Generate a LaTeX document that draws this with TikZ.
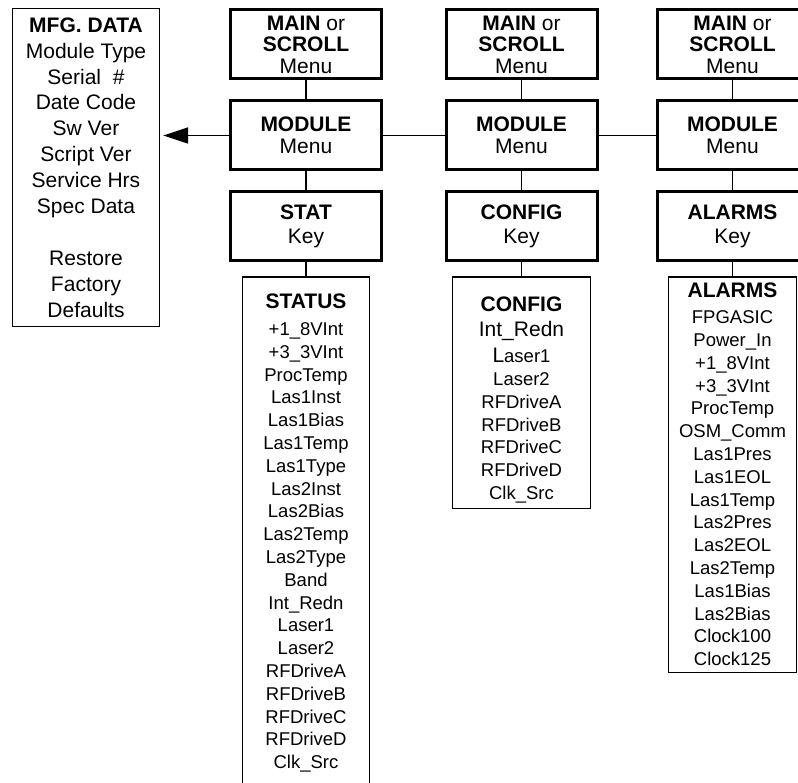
\documentclass[tikz,border=0pt]{standalone}
\usepackage{fontspec}
\setmainfont{Liberation Sans}
\usetikzlibrary{positioning,arrows.meta}
\newcommand{\hdsize}{\fontsize{21}{21.5}\selectfont}
\newcommand{\lssize}{\fontsize{18.5}{22.8}\selectfont}
\newcommand{\mfsize}{\fontsize{21}{25.9}\selectfont}
\tikzset{
  menubox/.style={
    draw, line width=3pt, align=center, inner sep=0pt,
    minimum width=151pt, minimum height=69pt, font=\hdsize,
  },
  listbox/.style={
    draw, line width=1.3pt, align=center, inner sep=0pt, font=\lssize,
  },
  link/.style ={line width=1.8pt},
  toarr/.style={link, -{Triangle[length=25pt,width=16pt]}, shorten >=3pt},
}

\begin{document}
\begin{tikzpicture}[x=1pt, y=-1pt]
\clip (0,0) rectangle (798,783);

% ---------------------------------------------------------------- mfg data
\node[listbox, font=\mfsize, minimum width=147pt, minimum height=318pt] (mfg) at (86,167.5)
  {\textbf{MFG. DATA}\\Module Type\\Serial\ \ \#\\Date Code\\Sw Ver\\Script Ver\\
   Service Hrs\\Spec Data\\[25.9pt]Restore\\Factory\\Defaults};

% ---------------------------------------------------------------- status column
\node[menubox] (main1) at (306,44.5) {\textbf{MAIN} or\\\textbf{SCROLL}\\Menu};
\node[menubox, below=19pt of main1] (mod1) {\textbf{MODULE}\\Menu};
\node[menubox, below=19pt of mod1] (stat) {\textbf{STAT}\\[2pt]Key};
\node[listbox, below=14pt of stat, minimum width=127pt, minimum height=512pt] (statlist)
  {{\hdsize\textbf{STATUS}}\\[4pt]+1\_8VInt\\+3\_3VInt\\ProcTemp\\Las1Inst\\Las1Bias\\
   Las1Temp\\Las1Type\\Las2Inst\\Las2Bias\\Las2Temp\\Las2Type\\Band\\Int\_Redn\\
   Laser1\\Laser2\\RFDriveA\\RFDriveB\\RFDriveC\\RFDriveD\\Clk\_Src};

% ---------------------------------------------------------------- config column
\node[menubox] (main2) at (521.5,44.5) {\textbf{MAIN} or\\\textbf{SCROLL}\\Menu};
\node[menubox, below=19pt of main2] (mod2) {\textbf{MODULE}\\Menu};
\node[menubox, below=19pt of mod2] (conf) {\textbf{CONFIG}\\[2pt]Key};
% strut on the first line pushes the whole list a little lower in its box
\node[listbox, below=14pt of conf, minimum width=138pt, minimum height=231pt] (conflist)
  {\rule{0pt}{29pt}{\hdsize\textbf{CONFIG}}\\[3pt]{\hdsize Int\_Redn}\\[3pt]{\hdsize L}aser1\\
   Laser2\\RFDriveA\\RFDriveB\\RFDriveC\\RFDriveD\\Clk\_Src};

% ---------------------------------------------------------------- alarms column
\node[menubox] (main3) at (732.5,44.5) {\textbf{MAIN} or\\\textbf{SCROLL}\\Menu};
\node[menubox, below=19pt of main3] (mod3) {\textbf{MODULE}\\Menu};
\node[menubox, below=19pt of mod3] (alrm) {\textbf{ALARMS}\\[2pt]Key};
\node[listbox, below=14pt of alrm, minimum width=128pt, minimum height=395pt] (alrmlist)
  {{\hdsize\textbf{ALARMS}}\\[3pt]FPGASIC\\Power\_In\\+1\_8VInt\\+3\_3VInt\\ProcTemp\\
   OSM\_Comm\\Las1Pres\\Las1EOL\\Las1Temp\\Las2Pres\\Las2EOL\\Las2Temp\\Las1Bias\\
   Las2Bias\\Clock100\\Clock125};

% ---------------------------------------------------------------- edges
\draw[link] (main1) -- (mod1);
\draw[link] (mod1) -- (stat);
\draw[link] (stat) -- (statlist);
\draw[link] (main2) -- (mod2);
\draw[link] (mod2) -- (conf);
\draw[link] (conf) -- (conflist);
\draw[link] (main3) -- (mod3);
\draw[link] (mod3) -- (alrm);
\draw[link] (alrm) -- (alrmlist);
\draw[link] (mod1) -- (mod2);
\draw[link] (mod2) -- (mod3);
\draw[toarr] (mod1.west) -- (mod1.west -| mfg.east);

\end{tikzpicture}
\end{document}
